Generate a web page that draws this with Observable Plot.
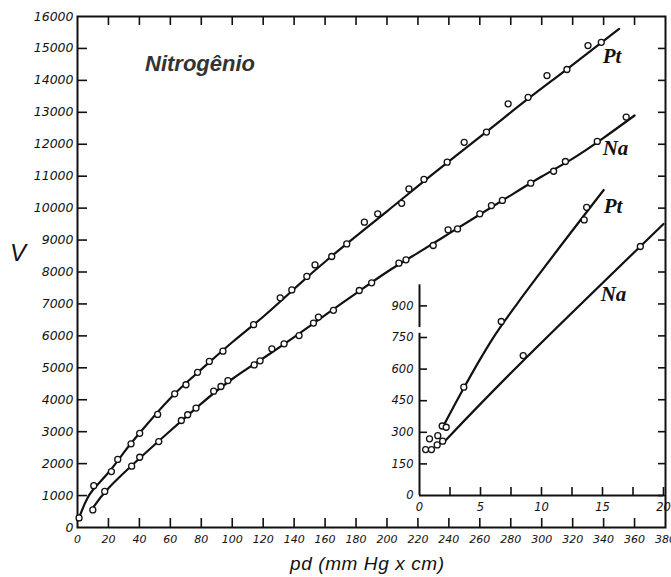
<!DOCTYPE html>
<html>
<head>
<meta charset="utf-8">
<script src="https://cdn.jsdelivr.net/npm/d3@7"></script>
<script src="https://cdn.jsdelivr.net/npm/@observablehq/plot@0.6"></script>
<style>
  body { margin: 0; background: #fff; }
  #wrap { position: relative; width: 671px; height: 577px; overflow: hidden; background: #fff; }
  #wrap svg { position: absolute; background: transparent; overflow: visible; }
  .lbl { position: absolute; white-space: nowrap; line-height: 1; font-family: "Liberation Sans", Arial, sans-serif; font-style: italic; color: #111; }
</style>
</head>
<body>
<div id="wrap">
  <div class="lbl" style="left:145px;top:53px;font-size:22px;font-weight:bold;color:#333;">Nitrogênio</div>
  <div class="lbl" style="left:10px;top:241px;font-size:24px;">V</div>
  <div class="lbl" style="left:290px;top:554px;font-size:19px;letter-spacing:0.6px;">pd (mm Hg x cm)</div>
</div>
<script>
// ---------- main chart: V vs pd (0–380 mm Hg x cm) ----------
const ptDotsPd = [1, 10.5, 21.9, 26, 34.6, 40.2, 51.8, 62.8, 70.1, 77.6, 85.2, 94, 113.8, 131, 138.5, 148.2, 153.5, 164.3, 174, 185.4, 194, 209.5, 214.2, 223.9, 238.9, 249.9, 264.3, 278.3, 291.2, 303.4, 316.3, 329.9, 338.5];
const ptDotsV  = [300, 1310, 1750, 2130, 2620, 2950, 3540, 4185, 4470, 4860, 5200, 5520, 6350, 7190, 7440, 7860, 8220, 8485, 8880, 9560, 9820, 10150, 10600, 10900, 11440, 12060, 12380, 13265, 13470, 14150, 14340, 15090, 15190];

const naDotsPd = [9.9, 17.6, 35, 40.2, 52.5, 67.1, 71.2, 76.6, 88, 92.7, 97.2, 114.2, 118, 125.6, 133.5, 143.2, 152.5, 155.7, 165.4, 182.1, 190.1, 207.7, 212.3, 229.9, 239.5, 245.6, 260, 267.5, 274.6, 292.9, 307.7, 315.3, 335.9, 354.6];
const naDotsV  = [550, 1130, 1920, 2200, 2690, 3350, 3530, 3740, 4270, 4415, 4600, 5090, 5220, 5595, 5750, 6010, 6400, 6590, 6800, 7420, 7660, 8275, 8380, 8830, 9320, 9350, 9820, 10080, 10240, 10780, 11155, 11460, 12090, 12850];

const ptCurvePd = [0.5, 5, 10, 20, 30, 40, 60, 80, 100, 120, 140, 164, 200, 230, 264, 290, 316, 350];
const ptCurveV  = [250, 780, 1180, 1720, 2350, 2950, 4050, 4950, 5800, 6600, 7470, 8485, 9900, 11080, 12380, 13380, 14340, 15610];

const naCurvePd = [9.7, 20, 40, 60, 80, 100, 120, 140, 160, 180, 200, 220, 240, 260, 280, 300, 320, 340, 360];
const naCurveV  = [600, 1230, 2160, 3030, 3880, 4650, 5300, 5960, 6650, 7330, 8000, 8600, 9200, 9800, 10400, 10990, 11550, 12200, 12900];

const mainLabelText = ["Pt", "Na"];
const mainLabelPd   = [339.4, 339.4];
const mainLabelV    = [14750, 11870];

const xLabelTicks = d3.range(0, 381, 20);
const xInnerTicks = d3.range(20, 380, 20);
const yLabelTicks = d3.range(0, 16001, 1000);
const yInnerTicks = d3.range(1000, 16000, 1000);

// ---------- inset: low pd (0–20) ----------
const insetPtDotsPd = [0.82, 1.5, 1.86, 2.19, 3.63, 6.7, 13.5, 13.7];
const insetPtDotsV  = [269, 284, 330, 324, 514, 826, 1308, 1368];
const insetNaDotsPd = [0.5, 0.98, 1.45, 1.9, 8.5, 18.1];
const insetNaDotsV  = [218, 218, 240, 258, 664, 1182];

const insetPtCurvePd = [2.05, 3.63, 5, 6, 7, 8, 10, 15.1];
const insetPtCurveV  = [340, 510, 650, 745, 830, 910, 1065, 1450];
const insetNaCurvePd = [2.07, 8.5, 20];
const insetNaCurveV  = [258, 640, 1289];

const insetLabelText = ["Pt", "Na"];
const insetLabelPd   = [15.1, 14.85];
const insetLabelV    = [1372, 954];

const insetXLabelTicks = [0, 5, 10, 15, 20];
const insetXInnerTicks = d3.range(2.5, 20.01, 2.5);
const insetYLabelTicks = [0, 150, 300, 450, 600, 750, 900];
const insetYInnerTicks = [150, 300, 450, 600, 750, 900];
const insetAxisBreakLow = [0, 770];
const insetAxisBreakHigh = [797, 1000];

// ---------- build rows ----------
const zipXY = (xs, ys) => xs.map((x, i) => ({x, y: ys[i]}));
const ptDots = zipXY(ptDotsPd, ptDotsV);
const naDots = zipXY(naDotsPd, naDotsV);
const ptCurve = zipXY(ptCurvePd, ptCurveV);
const naCurve = zipXY(naCurvePd, naCurveV);
const mainLabels = mainLabelText.map((t, i) => ({t, x: mainLabelPd[i], y: mainLabelV[i]}));
const iPtDots = zipXY(insetPtDotsPd, insetPtDotsV);
const iNaDots = zipXY(insetNaDotsPd, insetNaDotsV);
const iPtCurve = zipXY(insetPtCurvePd, insetPtCurveV);
const iNaCurve = zipXY(insetNaCurvePd, insetNaCurveV);
const insetLabels = insetLabelText.map((t, i) => ({t, x: insetLabelPd[i], y: insetLabelV[i]}));
const insetAxisSegs = [insetAxisBreakLow, insetAxisBreakHigh].map(([a, b]) => ({a, b}));

const ink = "#111";
const blank = () => "";
const serifLabel = {fontFamily: "'Liberation Serif', 'Times New Roman', serif", fontWeight: "bold", fontStyle: "italic", fontSize: 21, fill: ink, textAnchor: "start", lineAnchor: "middle"};
const dotStyle = {r: 3, stroke: ink, fill: "white", strokeWidth: 1.3};

const main = Plot.plot({
  width: 671, height: 577,
  marginLeft: 77, marginRight: 6, marginTop: 16, marginBottom: 50,
  x: {domain: [0, 380]},
  y: {domain: [0, 16000]},
  style: {fontFamily: "'DejaVu Sans', sans-serif", fontStyle: "italic", color: ink, background: "transparent"},
  marks: [
    Plot.axisX({ticks: xInnerTicks, tickSize: -9, tickFormat: blank, label: null, strokeWidth: 1.6}),
    Plot.axisX({ticks: xLabelTicks, tickSize: 0, tickPadding: 8, tickFormat: "d", fontSize: 11, label: null}),
    Plot.axisX({anchor: "top", ticks: xInnerTicks, tickSize: -8, tickFormat: blank, label: null, strokeWidth: 1.6}),
    Plot.axisY({ticks: yInnerTicks, tickSize: -10, tickFormat: blank, label: null, strokeWidth: 1.6}),
    Plot.axisY({ticks: yLabelTicks, tickSize: 0, tickPadding: 4, tickFormat: "d", fontSize: 12.5, label: null}),
    Plot.axisY({anchor: "right", ticks: yInnerTicks, tickSize: -8, tickFormat: blank, label: null, strokeWidth: 1.6}),
    Plot.frame({stroke: ink, strokeWidth: 2}),
    Plot.line(ptCurve, {x: "x", y: "y", curve: "natural", stroke: ink, strokeWidth: 2.2}),
    Plot.line(naCurve, {x: "x", y: "y", curve: "natural", stroke: ink, strokeWidth: 2.2}),
    Plot.dot(ptDots, {x: "x", y: "y", ...dotStyle}),
    Plot.dot(naDots, {x: "x", y: "y", ...dotStyle}),
    Plot.text(mainLabels, {x: "x", y: "y", text: "t", ...serifLabel})
  ]
});

const insetMarginLeft = 40, insetMarginTop = 10, insetMarginBottom = 30, insetMarginRight = 8;
const insetInnerW = 244, insetInnerH = 316;
const inset = Plot.plot({
  width: insetMarginLeft + insetInnerW + insetMarginRight,
  height: insetMarginTop + insetInnerH + insetMarginBottom,
  marginLeft: insetMarginLeft, marginRight: insetMarginRight, marginTop: insetMarginTop, marginBottom: insetMarginBottom,
  x: {domain: [0, 20]},
  y: {domain: [0, 1500]},
  style: {fontFamily: "'DejaVu Sans', sans-serif", fontStyle: "italic", color: ink, background: "transparent"},
  marks: [
    Plot.ruleY([0], {stroke: ink, strokeWidth: 2}),
    Plot.ruleX(insetAxisSegs, {x: 0, y1: "a", y2: "b", stroke: ink, strokeWidth: 2}),
    Plot.axisX({ticks: insetXInnerTicks, tickSize: -8, tickFormat: blank, label: null, strokeWidth: 1.6}),
    Plot.axisX({ticks: insetXLabelTicks, tickSize: 0, tickPadding: 7, tickFormat: "d", fontSize: 11.5, label: null}),
    Plot.axisY({ticks: insetYInnerTicks, tickSize: -8, tickFormat: blank, label: null, strokeWidth: 1.6}),
    Plot.axisY({ticks: insetYLabelTicks, tickSize: 0, tickPadding: 6, tickFormat: "d", fontSize: 11.5, label: null}),
    Plot.line(iPtCurve, {x: "x", y: "y", curve: "monotone-x", stroke: ink, strokeWidth: 2.2}),
    Plot.line(iNaCurve, {x: "x", y: "y", curve: "natural", stroke: ink, strokeWidth: 2.2}),
    Plot.dot(iPtDots, {x: "x", y: "y", ...dotStyle}),
    Plot.dot(iNaDots, {x: "x", y: "y", ...dotStyle}),
    Plot.text(insetLabels, {x: "x", y: "y", text: "t", ...serifLabel})
  ]
});

const wrap = document.getElementById("wrap");
main.style.left = "0px";
main.style.top = "0px";
wrap.insertBefore(main, wrap.firstChild);
inset.style.left = (419 - insetMarginLeft) + "px";
inset.style.top = (495 - insetInnerH - insetMarginTop) + "px";
wrap.appendChild(inset);
</script>
</body>
</html>
